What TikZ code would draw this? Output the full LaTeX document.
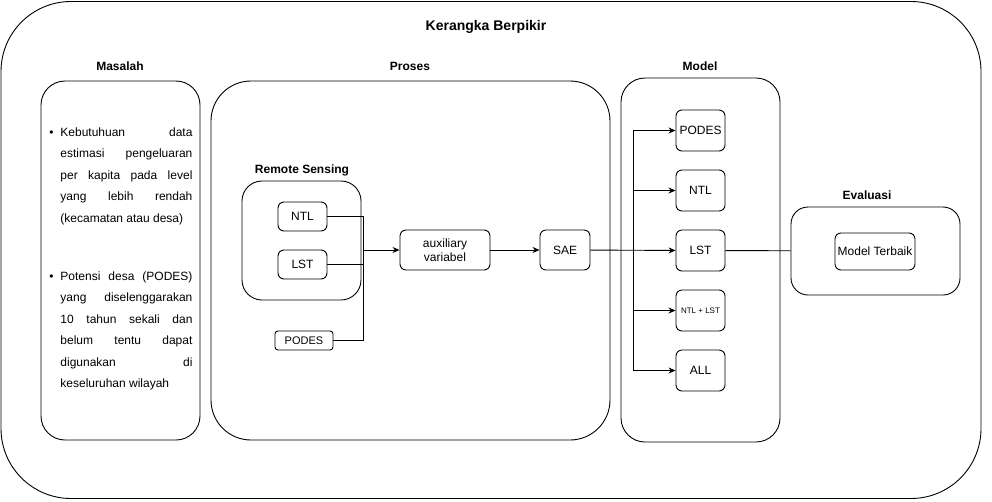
\documentclass[tikz,border=0pt]{standalone}
\usepackage{fontspec}
\setmainfont{Liberation Sans}
\usetikzlibrary{arrows.meta}
\usetikzlibrary{positioning}

\begin{document}
\begin{tikzpicture}[x=1pt,y=-1pt,line width=0.9pt,
  every node/.style={font=\fontsize{12}{14}\selectfont,inner sep=0pt},
  box/.style={draw,rounded corners=6pt,align=center},
  frame/.style={draw,rounded corners=#1},
  head/.style={font=\fontsize{12}{14}\selectfont\bfseries},
  arr/.style={-{Stealth[length=7pt,width=6pt]}}]
\useasboundingbox (0,0) rectangle (992,501);
% frames
\node[frame=70pt,minimum width=980pt,minimum height=497pt] (outer) at (491,250) {};
\node[head,font=\fontsize{14}{16}\selectfont\bfseries] (title) at (486,27) {Kerangka Berpikir};
\node[frame=24pt,minimum width=159pt,minimum height=359pt] (masalah) at (120.5,260.5) {};
\node[frame=40pt,minimum width=399pt,minimum height=359pt] (proses) at (410.5,260.5) {};
\node[frame=24pt,minimum width=159pt,minimum height=364pt] (model) at (700.5,260) {};
\node[frame=17pt,minimum width=169pt,minimum height=88pt] (eval) at (875.5,251) {};
\node[frame=20pt,minimum width=119pt,minimum height=119pt] (rs) at (301.5,240.5) {};
\node[head] (lmasalah) at (120,66) {Masalah};
\node[head] (lproses) at (410,66) {Proses};
\node[head] (lmodel) at (700,66) {Model};
\node[head] (leval) at (867,195) {Evaluasi};
\node[head] (lrs) at (302,170) {Remote Sensing};
% masalah
\begin{scope}[every node/.style={font=\fontsize{12}{21.5}\selectfont,inner sep=0pt,
    text width=132pt,align=justify,anchor=base west}]
\node (p1) at (60,136) {\hyphenpenalty=10000\llap{\textbullet\hspace{7pt}}Kebutuhuan data\linebreak
  estimasi pengeluaran\linebreak per kapita pada level\linebreak yang lebih rendah\linebreak
  (kecamatan atau desa)};
\node (p2) at (60,280) {\hyphenpenalty=10000\llap{\textbullet\hspace{7pt}}Potensi desa (PODES)\linebreak
  yang diselenggarakan\linebreak 10 tahun sekali dan\linebreak belum tentu dapat\linebreak
  digunakan di\linebreak keseluruhan wilayah};
\end{scope}
% proses
\node[box,minimum width=49pt,minimum height=29pt] (ntl) at (302.5,216.5) {NTL};
\node[box,minimum width=49pt,minimum height=29pt] (lst) at (302.5,264.5) {LST};
\node[box,rounded corners=3pt,minimum width=58pt,minimum height=19pt,font=\fontsize{11}{13}\selectfont] (podes) at (304,340.5) {PODES};
\node[box,minimum width=90pt,minimum height=40pt] (aux) at (445,250) {auxiliary\\variabel};
\node[box,minimum width=50pt,minimum height=40pt] (sae) at (565,250) {SAE};
\coordinate (rsjoin) at (363,250);
\draw (ntl.east) -| (rsjoin);
\draw (lst.east) -| (rsjoin);
\draw (podes.east) -| (rsjoin);
\draw[arr] (rsjoin) -- (aux);
\draw[arr] (aux) -- (sae);
% model
\begin{scope}[every node/.style={box,font=\fontsize{12}{14}\selectfont,inner sep=0pt,minimum width=49pt,minimum height=41pt}]
\node (mpodes) at (700.5,130.5) {PODES};
\node (mntl) at (700.5,190.5) {NTL};
\node (mlst) at (700.5,250.5) {LST};
\node[font=\fontsize{8}{10}\selectfont] (mnl) at (700.5,310.5) {NTL + LST};
\node (mall) at (700.5,370.5) {ALL};
\end{scope}
\coordinate (fan) at (633,250);
\draw (fan |- mpodes.west) -- (fan |- mall.west);
\foreach \m in {mpodes,mntl,mnl,mall}
  \draw[arr] (fan |- \m.west) -- (\m.west);
\draw[arr] (sae) -- (mlst);
\draw (mlst) -- (eval);
% evaluasi
\node[box,minimum width=80pt,minimum height=37pt] (best) at (875,251.5) {Model Terbaik};
\end{tikzpicture}
\end{document}
